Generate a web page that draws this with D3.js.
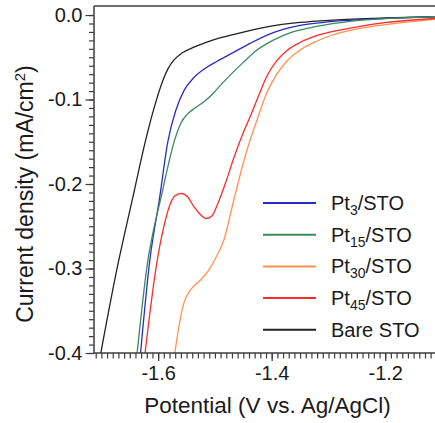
<!DOCTYPE html>
<html>
<head>
<meta charset="utf-8">
<script src="https://cdn.jsdelivr.net/npm/d3@7"></script>
<style>
  body { margin: 0; background: #fff; }
  text { font-family: "Liberation Sans", Arial, Helvetica, sans-serif; fill: #1a1a1a; }
</style>
</head>
<body>
<div class="chart"></div>
<script>
var svgWidth = 435;
var svgHeight = 423;

// plot box in pixels
var margin = { top: 6, right: -7, bottom: 70, left: 94 };
var width = svgWidth - margin.left - margin.right;
var height = svgHeight - margin.top - margin.bottom;

// data: potential (V vs Ag/AgCl) and current density (mA/cm2)
var bareV = [-1.701, -1.673, -1.645, -1.622, -1.608, -1.592, -1.583, -1.572, -1.558, -1.537, -1.514, -1.488, -1.468, -1.408, -1.350, -1.292, -1.200, -1.110];
var bareJ = [-0.400, -0.302, -0.217, -0.148, -0.112, -0.078, -0.064, -0.053, -0.045, -0.038, -0.032, -0.0265, -0.0232, -0.0140, -0.0088, -0.0060, -0.0035, -0.002];

var pt3V = [-1.631, -1.615, -1.598, -1.583, -1.569, -1.555, -1.537, -1.517, -1.497, -1.468, -1.438, -1.409, -1.380, -1.350, -1.297, -1.200, -1.110];
var pt3J = [-0.400, -0.292, -0.219, -0.150, -0.113, -0.090, -0.074, -0.063, -0.055, -0.0445, -0.0335, -0.0240, -0.0170, -0.0122, -0.0079, -0.0040, -0.0018];

var pt15V = [-1.637, -1.618, -1.608, -1.596, -1.571, -1.560, -1.548, -1.535, -1.520, -1.505, -1.490, -1.470, -1.450, -1.427, -1.398, -1.363, -1.321, -1.262, -1.190, -1.110];
var pt15J = [-0.400, -0.290, -0.254, -0.219, -0.148, -0.128, -0.117, -0.110, -0.103, -0.094, -0.083, -0.069, -0.056, -0.042, -0.030, -0.020, -0.0135, -0.0075, -0.004, -0.002];

var pt30V = [-1.5706, -1.5635, -1.5547, -1.543, -1.5253, -1.5107, -1.5006, -1.4842, -1.468, -1.450, -1.438, -1.4238, -1.409, -1.391, -1.374, -1.350, -1.321, -1.297, -1.2446, -1.174, -1.110];
var pt30J = [-0.400, -0.369, -0.341, -0.3254, -0.3136, -0.3018, -0.290, -0.2663, -0.2225, -0.1751, -0.1479, -0.1204, -0.0927, -0.070, -0.055, -0.0415, -0.031, -0.0245, -0.0158, -0.0092, -0.0050];

var pt45V = [-1.623, -1.603, -1.590, -1.578, -1.5706, -1.5595, -1.5477, -1.537, -1.5265, -1.515, -1.5054, -1.4966, -1.4795, -1.468, -1.450, -1.438, -1.4238, -1.409, -1.391, -1.374, -1.350, -1.321, -1.2856, -1.257, -1.1975, -1.110];
var pt45J = [-0.400, -0.296, -0.2505, -0.2225, -0.2142, -0.211, -0.2154, -0.2269, -0.2355, -0.2408, -0.2379, -0.226, -0.1953, -0.1716, -0.139, -0.1204, -0.0967, -0.073, -0.054, -0.0425, -0.0325, -0.0245, -0.0185, -0.0148, -0.0088, -0.0040];

var xTicks = [-1.6, -1.4, -1.2];
var yTicks = [0.0, -0.1, -0.2, -0.3, -0.4];

// legend order
var seriesNames = ["Pt|3", "Pt|15", "Pt|30", "Pt|45", "Bare STO"];
var seriesColors = ["#2b2bc4", "#3a8a5e", "#ff9150", "#ff2a2a", "#222222"];
var seriesV = [pt3V, pt15V, pt30V, pt45V, bareV];
var seriesJ = [pt3J, pt15J, pt30J, pt45J, bareJ];
// draw order (bare first, underneath)
var drawOrder = [4, 0, 1, 2, 3];

var svg = d3.select(".chart")
  .append("svg")
  .attr("width", svgWidth)
  .attr("height", svgHeight);

var chartGroup = svg.append("g")
  .attr("transform", `translate(${margin.left}, ${margin.top})`);

var xScale = d3.scaleLinear()
  .domain([-1.713, -1.1])
  .range([0, width]);

var yScale = d3.scaleLinear()
  .domain([-0.4, 0.0107])
  .range([height, 0]);

chartGroup.append("clipPath")
  .attr("id", "plotclip")
  .append("rect")
  .attr("x", 0).attr("y", 0)
  .attr("width", width).attr("height", height);

// curves
var line = d3.line()
  .x(d => xScale(d[0]))
  .y(d => yScale(d[1]))
  .curve(d3.curveMonotoneX);

drawOrder.forEach(function(i) {
  var pts = seriesV[i].map((v, k) => [v, seriesJ[i][k]]);
  chartGroup.append("path")
    .datum(pts)
    .attr("clip-path", "url(#plotclip)")
    .attr("fill", "none")
    .attr("stroke", seriesColors[i])
    .attr("stroke-width", 1.3)
    .attr("d", line);
});

var axisColor = "#3c3c3c";
var fmt = d => d3.format(".1f")(d).replace("−", "-");

// minor ticks, every 0.01 on both axes
var xMinor = d3.range(-171, -110).map(d => d / 100);
var yMinor = d3.range(-40, 1).map(d => d / 100);

var xMinorAxis = chartGroup.append("g")
  .attr("transform", `translate(0, ${height})`)
  .call(d3.axisBottom(xScale).tickValues(xMinor).tickSize(5.5).tickFormat(""));

var yMinorAxis = chartGroup.append("g")
  .call(d3.axisLeft(yScale).tickValues(yMinor).tickSize(5).tickFormat(""));

// major ticks + labels
var bottomAxis = d3.axisBottom(xScale)
  .tickValues(xTicks)
  .tickSize(8)
  .tickPadding(5)
  .tickFormat(fmt);

var leftAxis = d3.axisLeft(yScale)
  .tickValues(yTicks)
  .tickSize(8.5)
  .tickPadding(3)
  .tickFormat(d => d === 0 ? "0.0" : fmt(d));

var xAxis = chartGroup.append("g")
  .attr("transform", `translate(0, ${height})`)
  .call(bottomAxis);

var yAxis = chartGroup.append("g")
  .call(leftAxis);

[xMinorAxis, yMinorAxis, xAxis, yAxis].forEach(function(ax) {
  ax.select(".domain").remove();
  ax.selectAll("line").attr("stroke", axisColor).attr("stroke-width", 1.2);
  ax.selectAll("text")
    .style("font-family", "\"Liberation Sans\", Arial, sans-serif")
    .style("font-size", "20px")
    .attr("fill", "#1a1a1a");
});

// frame lines
chartGroup.append("line")
  .attr("x1", 0).attr("x2", 0).attr("y1", 0).attr("y2", height)
  .attr("stroke", axisColor).attr("stroke-width", 1.5);
chartGroup.append("line")
  .attr("x1", 0).attr("x2", width).attr("y1", height).attr("y2", height)
  .attr("stroke", axisColor).attr("stroke-width", 1.5);
chartGroup.append("line")
  .attr("x1", 0).attr("x2", width).attr("y1", 0).attr("y2", 0)
  .attr("stroke", axisColor).attr("stroke-width", 1.5);

// axis titles
svg.append("text")
  .attr("x", 267.5)
  .attr("y", 413)
  .attr("text-anchor", "middle")
  .style("font-size", "22.5px")
  .text("Potential (V vs. Ag/AgCl)");

var yTitle = svg.append("text")
  .attr("transform", "translate(33, 194) rotate(-90)")
  .attr("text-anchor", "middle")
  .style("font-size", "23px");
yTitle.append("tspan").text("Current density (mA/cm");
yTitle.append("tspan").attr("dy", -8).style("font-size", "15px").text("2");
yTitle.append("tspan").attr("dy", 8).text(")");

// legend
var legendGroup = svg.append("g");
seriesNames.forEach(function(name, i) {
  var ly = 203 + i * 31.7;
  legendGroup.append("line")
    .attr("x1", 263).attr("x2", 316)
    .attr("y1", ly).attr("y2", ly)
    .attr("stroke", seriesColors[i])
    .attr("stroke-width", 2);
  var t = legendGroup.append("text")
    .attr("x", 331)
    .attr("y", ly + 7)
    .style("font-size", "20px");
  if (name.indexOf("|") >= 0) {
    var parts = name.split("|");
    t.append("tspan").text(parts[0]);
    t.append("tspan").attr("dy", 5).style("font-size", "14px").text(parts[1]);
    t.append("tspan").attr("dy", -5).text("/STO");
  } else {
    t.text(name);
  }
});
</script>
</body>
</html>
